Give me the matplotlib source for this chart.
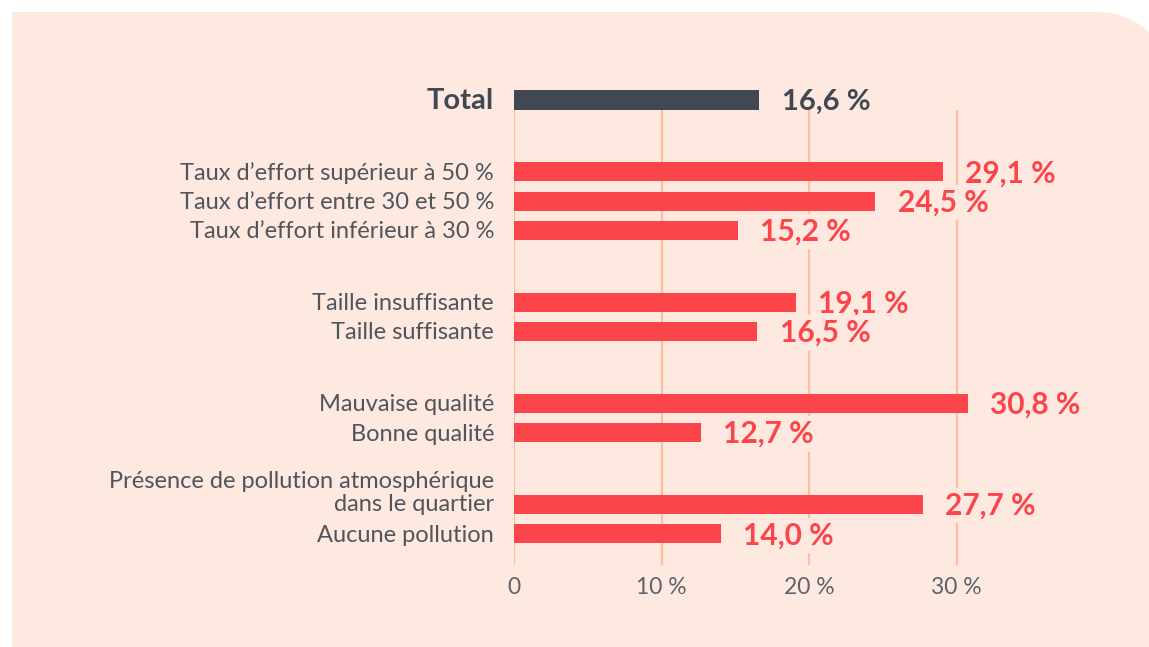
import matplotlib
matplotlib.use("Agg")
import matplotlib.pyplot as plt
from matplotlib.patches import Rectangle, Circle
from matplotlib.transforms import IdentityTransform

# ---- data ----
total_label = "Total"
total_value = 16.6
groups = [
    ["Taux d\u2019effort supérieur à 50 %", "Taux d\u2019effort entre 30 et 50 %", "Taux d\u2019effort inférieur à 30 %"],
    ["Taille insuffisante", "Taille suffisante"],
    ["Mauvaise qualité", "Bonne qualité"],
    ["Présence de pollution atmosphérique\ndans le quartier", "Aucune pollution"],
]
group_values = [
    [29.1, 24.5, 15.2],
    [19.1, 16.5],
    [30.8, 12.7],
    [27.7, 14.0],
]
x_ticks = [0, 10, 20, 30]
x_ticklabels = ["0", "10 %", "20 %", "30 %"]

# ---- style ----
BG = "#FDE9DF"
RED = "#FC454B"
DARK = "#414852"
GRID = "#FFBE9E"
TXT = "#50555D"
FONT = "Lato"

W, H = 1149, 647
fig = plt.figure(figsize=(W / 100, H / 100), dpi=100)
fig.patch.set_facecolor("white")

# background panel (top-right corner rounded), in pixel coords (origin bottom-left)
R = 78
cx, cy = 1097, H - 12 - R
for art in [
    Rectangle((12, -5), cx - 12, H - 12 + 5),
    Rectangle((cx - 1, -5), 200, cy + 5),
    Circle((cx, cy), R),
]:
    art.set_transform(IdentityTransform())
    art.set_facecolor(BG)
    art.set_edgecolor("none")
    art.set_zorder(-10)
    fig.patches.append(art)

# axes placement in pixels
ax_left, ax_right = 514, 514 + 14.75 * 32
ax_top, ax_bottom = 80, 565
ax = fig.add_axes([ax_left / W, 1 - ax_bottom / H, (ax_right - ax_left) / W, (ax_bottom - ax_top) / H])
ax.set_facecolor("none")
ax.set_zorder(5)

row_gap = 1.0
group_gap = 2.45
positions = []
labels = []
values = []
pos = 0.0
for g_labels, g_vals in zip(groups, group_values):
    pos += group_gap
    for i, (lab, v) in enumerate(zip(g_labels, g_vals)):
        if i > 0:
            pos += row_gap
        positions.append(pos)
        labels.append(lab)
        values.append(v)

px_per_row = 29.3
y_top = -(100 - ax_top) / px_per_row
y_bot = (ax_bottom - 100) / px_per_row
ax.set_ylim(y_bot, y_top)
ax.set_xlim(0, 32)

bar_h = 0.65
ax.barh([0], [total_value], height=bar_h, color=DARK, zorder=3)
ax.barh(positions, values, height=bar_h, color=RED, zorder=3)

# gridlines
for t in x_ticks:
    ax.vlines(t, bar_h / 2, y_bot, color=GRID, lw=1.6, zorder=1)

for s in ax.spines.values():
    s.set_visible(False)
ax.set_yticks([])
ax.set_xticks(x_ticks)
ax.set_xticklabels(x_ticklabels, fontsize=16.5, color="#5E636B", fontfamily=FONT)
ax.tick_params(axis="x", length=0, pad=9)

# labels
ax.text(-1.35, 0.05, total_label, ha="right", va="center", fontsize=21, fontweight="bold",
        color=DARK, fontfamily=FONT)
ax.text(total_value + 1.6, 0.05, f"{total_value:.1f} %".replace(".", ","), ha="left", va="center",
        fontsize=21, fontweight="bold", color=DARK, fontfamily=FONT)

line_offset = 0.445
for p, lab, v in zip(positions, labels, values):
    n = lab.count("\n")
    ax.text(-1.35, p + 0.05 - n * line_offset, lab, ha="right", va="center", fontsize=17,
            color=TXT, fontfamily=FONT, linespacing=1.1, clip_on=False)
    ax.text(v + 1.5, p + 0.05, f"{v:.1f} %".replace(".", ","), ha="left", va="center", fontsize=21.5,
            fontweight="bold", color=RED, fontfamily=FONT, zorder=4,
            bbox=dict(boxstyle="square,pad=0.12", facecolor=BG, edgecolor="none"))

fig.savefig("out.png", dpi=100, facecolor=fig.get_facecolor())
